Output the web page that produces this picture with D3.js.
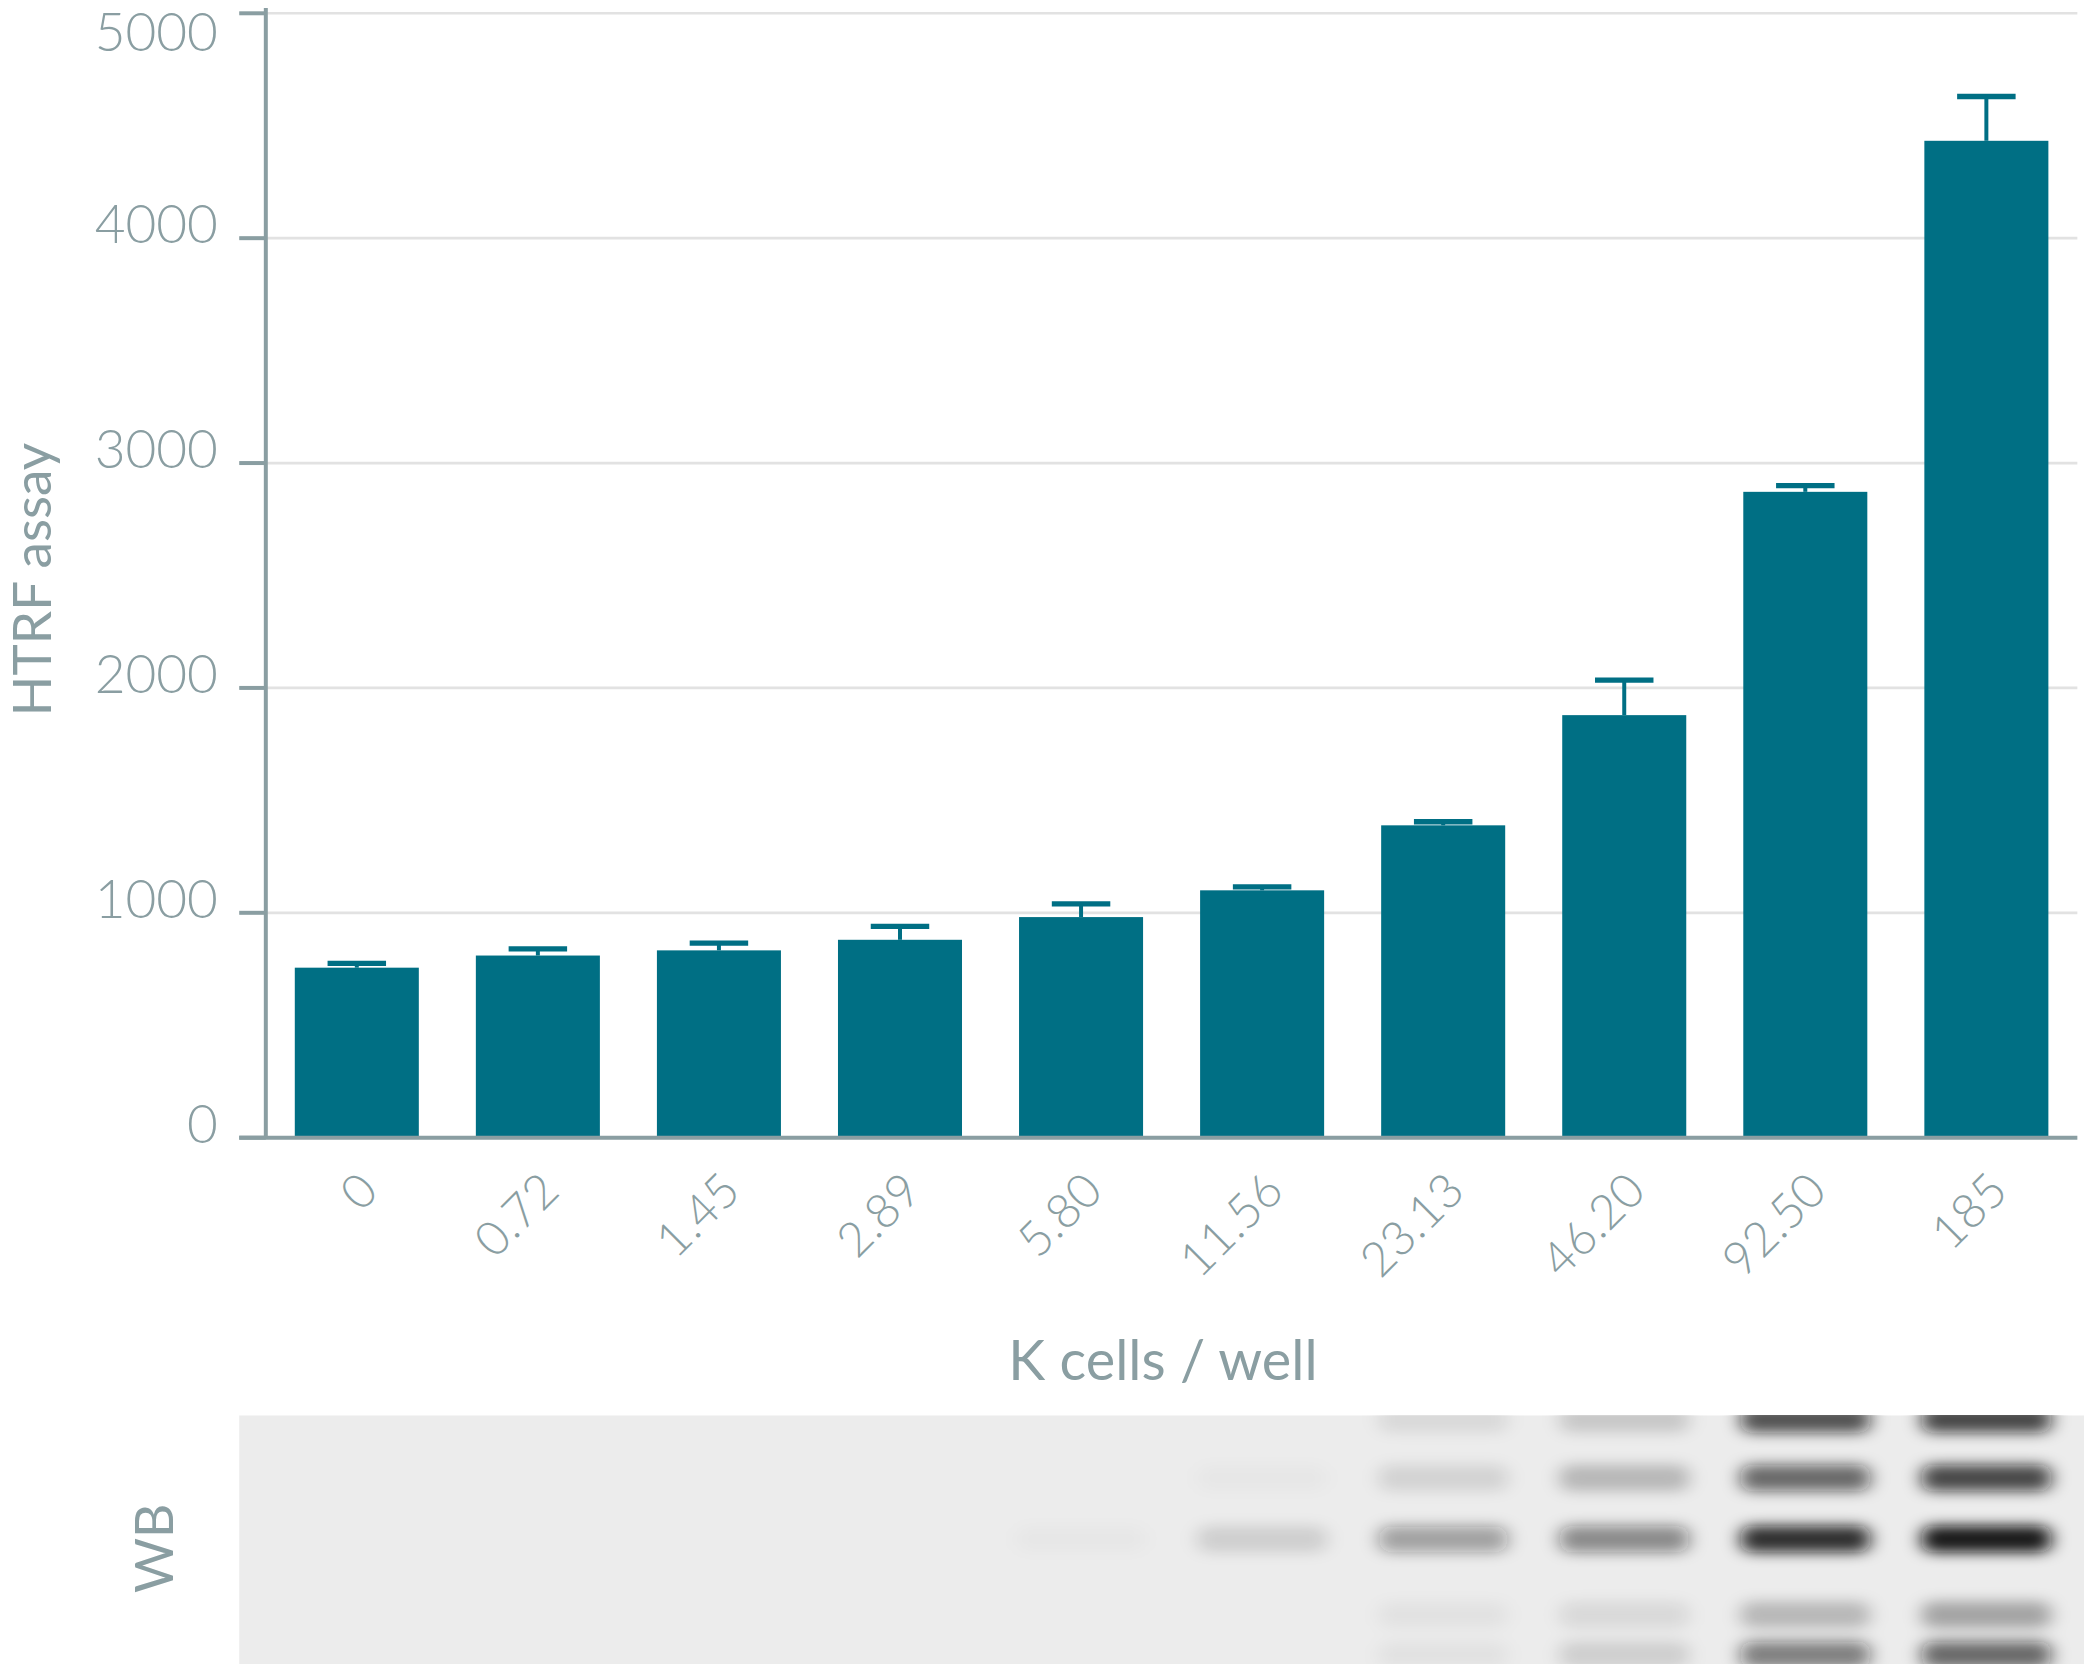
<!DOCTYPE html>
<html><head><meta charset="utf-8">
<script src="https://cdn.jsdelivr.net/npm/d3@7"></script>
<style>body{margin:0;background:#fff}text{font-family:Lato,"Open Sans",sans-serif;fill:#8a9ea2}</style>
</head><body>
<svg id="chart" width="2084" height="1664" viewBox="0 0 1568 1252"></svg>
<script>
const categories = ["0","0.72","1.45","2.89","5.80","11.56","23.13","46.20","92.50","185"];
const values = [756, 810, 833, 880, 981, 1100, 1389, 1879, 2872, 4433];
const errHigh = [775, 840, 865, 940, 1040, 1115, 1405, 2035, 2900, 4630];
const yTicks = [0, 1000, 2000, 3000, 4000, 5000];
// western blot band darkness per lane: [top, upper, main, lower, bottom]
const bandRows = [1068, 1112, 1158, 1215, 1245];
const blot = [
  [0,0,0,0,0],[0,0,0,0,0],[0,0,0,0,0],[0,0,0,0,0],[0,0,0.02,0,0],
  [0,0.02,0.12,0,0],[0.08,0.1,0.35,0.04,0.04],[0.15,0.22,0.45,0.08,0.12],
  [0.7,0.6,0.85,0.22,0.5],[0.75,0.75,0.95,0.3,0.6]
];

const svg = d3.select("#chart");
const m = {left: 200, right: 1563, top: 10, bottom: 856};
const x = d3.scaleBand().domain(categories).range([m.left, m.right]).paddingInner(0.315).paddingOuter(0.16);
const y = d3.scaleLinear().domain([0, 5000]).range([m.bottom, m.top]);
const teal = "#006f84", grey = "#8a9ea2";

svg.append("g").selectAll("line").data(yTicks.slice(1)).join("line")
  .attr("x1", 180).attr("x2", m.right).attr("y1", d => y(d)).attr("y2", d => y(d))
  .attr("stroke", "#e2e2e2").attr("stroke-width", 2);

const bars = svg.append("g").selectAll("g").data(categories).join("g");
bars.append("line")
  .attr("x1", d => x(d) + x.bandwidth()/2).attr("x2", d => x(d) + x.bandwidth()/2)
  .attr("y1", (d,i) => y(values[i])).attr("y2", (d,i) => y(errHigh[i]))
  .attr("stroke", teal).attr("stroke-width", 3);
bars.append("line")
  .attr("x1", d => x(d) + x.bandwidth()/2 - 22).attr("x2", d => x(d) + x.bandwidth()/2 + 22)
  .attr("y1", (d,i) => y(errHigh[i])).attr("y2", (d,i) => y(errHigh[i]))
  .attr("stroke", teal).attr("stroke-width", 4);
bars.append("rect")
  .attr("x", d => x(d)).attr("width", x.bandwidth())
  .attr("y", (d,i) => y(values[i])).attr("height", (d,i) => y(0) - y(values[i]))
  .attr("fill", teal);

// axes
svg.append("line").attr("x1", m.left).attr("x2", m.left).attr("y1", 6).attr("y2", m.bottom)
  .attr("stroke", grey).attr("stroke-width", 3);
svg.append("line").attr("x1", 180).attr("x2", m.right).attr("y1", m.bottom).attr("y2", m.bottom)
  .attr("stroke", grey).attr("stroke-width", 3);
svg.append("g").selectAll("line").data(yTicks).join("line")
  .attr("x1", 180).attr("x2", m.left).attr("y1", d => y(d)).attr("y2", d => y(d))
  .attr("stroke", grey).attr("stroke-width", 3);
svg.append("g").selectAll("text").data(yTicks).join("text")
  .attr("x", 164).attr("y", d => Math.max(y(d) + 4, 38)).attr("text-anchor", "end")
  .attr("font-size", 40).attr("font-weight", 300).text(d => d);

svg.append("g").selectAll("text").data(categories).join("text")
  .attr("transform", d => `translate(${x(d) + x.bandwidth()/2},${880}) rotate(-45)`)
  .attr("text-anchor", "end").attr("dy", "0.7em")
  .attr("font-size", 36).attr("font-weight", 300).text(d => d);

svg.append("text").attr("x", 875).attr("y", 1038).attr("text-anchor", "middle")
  .attr("font-size", 42).text("K cells / well");
svg.append("text").attr("transform", "translate(38,436) rotate(-90)").attr("text-anchor", "middle")
  .attr("font-size", 40).text("HTRF assay");

// western blot strip
const defs = svg.append("defs");
defs.append("filter").attr("id", "blur").attr("x", "-20%").attr("y", "-50%").attr("width", "140%").attr("height", "200%")
  .append("feGaussianBlur").attr("stdDeviation", "7 5");
defs.append("clipPath").attr("id", "clip").append("rect")
  .attr("x", 180).attr("y", 1065).attr("width", 1388).attr("height", 187);
svg.append("rect").attr("x", 180).attr("y", 1065).attr("width", 1388).attr("height", 187).attr("fill", "#ececec");
const blotG = svg.append("g").attr("clip-path", "url(#clip)").attr("filter", "url(#blur)");
categories.forEach((c, i) => {
  blot[i].forEach((v, j) => {
    if (!v) return;
    blotG.append("rect")
      .attr("x", x(c) - 2).attr("width", x.bandwidth() + 4)
      .attr("y", bandRows[j] - 10).attr("height", 20).attr("rx", 8)
      .attr("fill", "#111").attr("opacity", v);
  });
});
svg.append("text").attr("transform", "translate(130,1165) rotate(-90)").attr("text-anchor", "middle")
  .attr("font-size", 40).text("WB");
</script>
</body></html>
